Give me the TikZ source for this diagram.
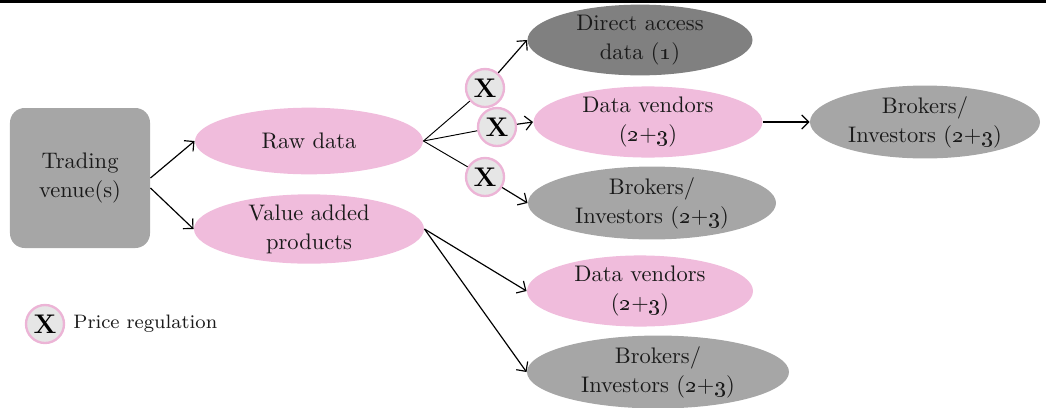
\documentclass[tikz,border=0pt]{standalone}
\usepackage{amsmath}
\usepackage{tikz}
\usetikzlibrary{arrows.meta,shapes.geometric}

\definecolor{pinkfill}{RGB}{240,188,220}
\definecolor{grayfill}{RGB}{166,166,166}
\definecolor{darkfill}{RGB}{128,128,128}
\definecolor{regfill}{RGB}{230,230,230}
\definecolor{regline}{RGB}{236,180,214}
\definecolor{txt}{RGB}{26,26,26}

\begin{document}
\begin{tikzpicture}[x=0.015cm, y=-0.015cm,
    font=\fontsize{9.6}{12.4}\selectfont, text=txt,
    pinkell/.style={ellipse, fill=pinkfill, inner sep=0pt, align=center},
    grayell/.style={ellipse, fill=grayfill, inner sep=0pt, align=center},
    reg/.style={circle, draw=regline, line width=1pt, fill=regfill, minimum size=0.57cm, inner sep=0pt, font=\fontsize{11.5}{13}\selectfont\bfseries, text=black},
    arr/.style={-{Straight Barb[length=3pt,width=6pt]}, line width=0.5pt}]
    \useasboundingbox (0,0) rectangle (1046,407);
    \draw[line width=1.3pt] (0,1.5) -- (1046,1.5);

    % source and first level
    \node[rectangle, rounded corners=0.22cm, fill=grayfill, minimum width=2.1cm, minimum height=2.1cm, align=center] (venue) at (80,178) {Trading\\venue(s)};
    \node[pinkell, minimum width=3.42cm, minimum height=1.0cm] (raw) at (309,141) {Raw data};
    \node[pinkell, minimum width=3.45cm, minimum height=1.02cm] (value) at (309,229) {Value added\\products};

    % receivers
    \node[ellipse, fill=darkfill, inner sep=0pt, align=center, minimum width=3.375cm, minimum height=0.975cm] (direct) at (640,40) {Direct access\\data (\oldstylenums{1})};
    \node[pinkell, minimum width=3.435cm, minimum height=1.035cm] (vendA) at (648,122) {Data vendors\\(\oldstylenums{2}+\oldstylenums{3})};
    \node[grayell, minimum width=3.72cm, minimum height=1.08cm] (brokA) at (652,203) {Brokers/\\Investors (\oldstylenums{2}+\oldstylenums{3})};
    \node[pinkell, minimum width=3.39cm, minimum height=1.02cm] (vendB) at (640,291) {Data vendors\\(\oldstylenums{2}+\oldstylenums{3})};
    \node[grayell, minimum width=3.93cm, minimum height=1.02cm] (brokB) at (658,372) {Brokers/\\Investors (\oldstylenums{2}+\oldstylenums{3})};
    \node[grayell, minimum width=3.45cm, minimum height=1.05cm] (brokC) at (925,122) {Brokers/\\Investors (\oldstylenums{2}+\oldstylenums{3})};

    % price regulation marks
    \node[reg] (x1) at (485,88) {X};
    \node[reg] (x2) at (497,127) {X};
    \node[reg] (x3) at (485,177) {X};

    \draw[arr] (venue.east |- 0,178) -- (raw.west);
    \draw[arr] (venue.east |- 0,188) -- (value.west);
    \draw (raw.east) -- (x1);
    \draw (raw.east) -- (x2);
    \draw (raw.east) -- (x3);
    \draw[arr] (x1) -- (direct.west);
    \draw[arr] (x2) -- (vendA.west);
    \draw[arr] (x3) -- (brokA.west);
    \draw[arr] (value.east) -- (vendB.west);
    \draw[arr] (value.east) -- (brokB.west);
    \draw[arr] (vendA.east) -- (brokC.west);

    % legend
    \node[reg] (legx) at (45,324) {X};
    \node[anchor=west, inner sep=0pt, font=\fontsize{8.3}{10}\selectfont] (legtext) at (73,324) {Price regulation};
\end{tikzpicture}
\end{document}
